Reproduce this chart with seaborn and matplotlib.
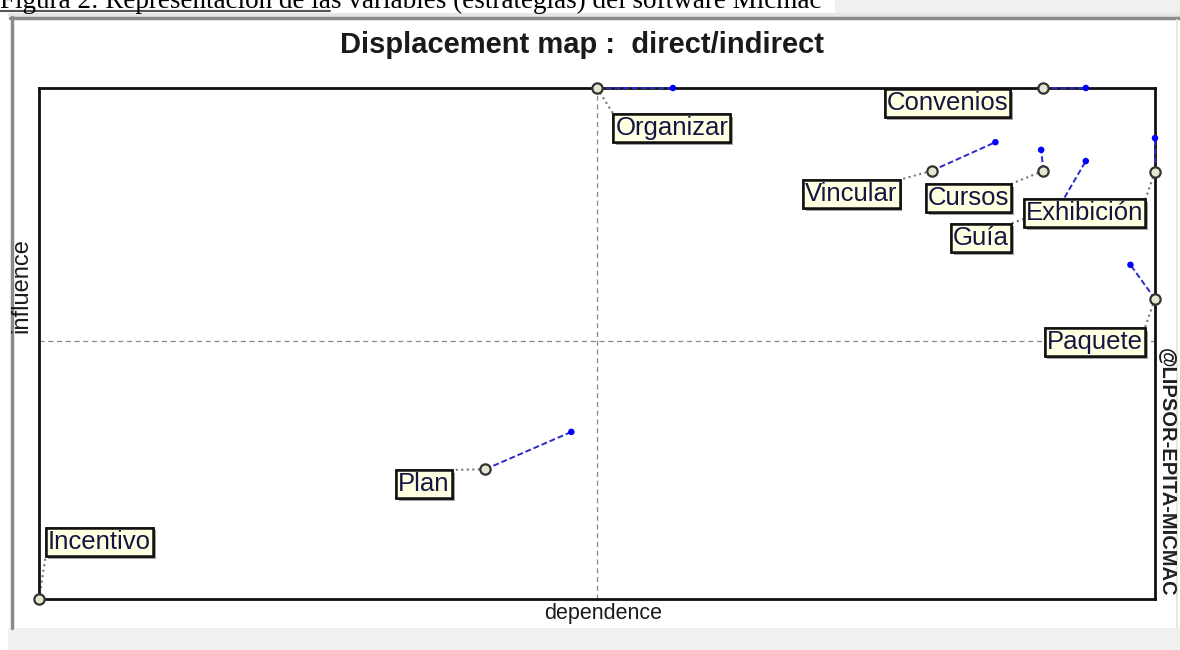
import numpy as np
import pandas as pd
import matplotlib
matplotlib.use('Agg')
import matplotlib.pyplot as plt
import matplotlib.patheffects as pe
from matplotlib.patches import Rectangle
from matplotlib.lines import Line2D
import seaborn as sns


# Variables (strategies) and their positions on the map
variables = ['Organizar', 'Convenios', 'Vincular', 'Cursos', 'Exhibición',
             'Guía', 'Paquete', 'Plan', 'Incentivo']
dep_direct = [0.500, 0.900, 0.800, 0.900, 1.000, 0.915, 1.000, 0.400, 0.000]
inf_direct = [1.000, 1.000, 0.838, 0.838, 0.836, 0.771, 0.587, 0.254, 0.000]
dep_indirect = [0.568, 0.938, 0.857, 0.898, 1.000, 0.938, 0.978, 0.477, 0.000]
inf_indirect = [1.000, 1.000, 0.894, 0.879, 0.902, 0.857, 0.654, 0.327, 0.000]

# where each label box sits (data coords, box centre)
label_x = [0.567, 0.814, 0.728, 0.833, 0.937, 0.844, 0.946, 0.345, 0.054]
label_y = [0.922, 0.971, 0.793, 0.785, 0.755, 0.707, 0.503, 0.225, 0.112]

mean_dep = 0.500
mean_inf = 0.505


def px(x):
    return x / 1180


def py(y):
    return 1 - y / 650


df = pd.DataFrame({'variable': variables,
                   'dep_direct': dep_direct, 'inf_direct': inf_direct,
                   'dep_indirect': dep_indirect, 'inf_indirect': inf_indirect})

# long format for the displacement segments
long_df = pd.concat([
    pd.DataFrame({'variable': variables, 'dependence': dep_direct,
                  'influence': inf_direct, 'kind': 'direct'}),
    pd.DataFrame({'variable': variables, 'dependence': dep_indirect,
                  'influence': inf_indirect, 'kind': 'indirect'}),
])

sns.set_style('white')
plt.rcParams['font.family'] = ['Liberation Sans', 'DejaVu Sans']

fig = plt.figure(figsize=(11.8, 6.5), dpi=100, facecolor='white')

# screenshot window frame
fig.patches.append(Rectangle((px(835), py(14)), px(345), 14 / 650, transform=fig.transFigure,
                             fc='#f0f0f0', ec='none', zorder=0))
fig.patches.append(Rectangle((px(8), 0), px(1172), 22 / 650, transform=fig.transFigure,
                             fc='#f0f0f0', ec='none', zorder=0))
fig.lines.append(Line2D([px(0), px(330)], [py(11), py(11)], transform=fig.transFigure,
                        color='#555555', lw=1.5))
fig.lines.append(Line2D([px(10), px(1180)], [py(15), py(15)], transform=fig.transFigure,
                        color='#e6e6e6', lw=3))
fig.lines.append(Line2D([px(10), px(1180)], [py(18), py(18)], transform=fig.transFigure,
                        color='#8a8a8a', lw=2.5))
fig.lines.append(Line2D([px(11.5), px(11.5)], [py(17), py(628)], transform=fig.transFigure,
                        color='#8a8a8a', lw=2.5))
fig.lines.append(Line2D([px(1177), px(1177)], [py(20), py(628)], transform=fig.transFigure,
                        color='#e6e6e6', lw=1.5))

# figure caption, partly cut by the top edge as in the source document
fig.text(px(0), py(8), 'Figura 2: Representación de las variables (estrategias) del software Micmac',
         family='Liberation Serif', fontsize=19.5, color='black', va='baseline', ha='left')

ax = fig.add_axes([px(39), 51 / 650, 1116 / 1180, 511 / 650])
ax.set_xlim(0, 1)
ax.set_ylim(0, 1)
ax.set_xticks([])
ax.set_yticks([])
for s in ax.spines.values():
    s.set_color('#111111')
    s.set_linewidth(2)
    s.set_visible(True)

# mean lines
ax.axvline(mean_dep, color='#888888', ls=(0, (4, 3)), lw=0.9, zorder=1)
ax.axhline(mean_inf, color='#888888', ls=(0, (4, 3)), lw=0.9, zorder=1)

# displacement segments direct -> indirect
sns.lineplot(data=long_df, x='dependence', y='influence', units='variable',
             estimator=None, sort=False, color='#2a2acc', lw=1.4,
             linestyle=(0, (3, 1.5)), ax=ax, zorder=3, legend=False)
for ln in ax.lines[2:]:
    ln.set_clip_on(False)

# indirect positions
sns.scatterplot(data=df, x='dep_indirect', y='inf_indirect', s=22, color='#0000ff',
                edgecolor='none', zorder=4, ax=ax, clip_on=False)
# direct positions
sns.scatterplot(data=df, x='dep_direct', y='inf_direct', s=55, color='#e6e6cf',
                edgecolor='#333333', linewidth=1.6, zorder=5, ax=ax, clip_on=False)

texts = []
for name, lx, ly in zip(variables, label_x, label_y):
    t = ax.text(lx, ly, name, ha='center', va='center', fontsize=18.5,
                color='#151545', zorder=10,
                bbox=dict(boxstyle='square,pad=0.08', fc='#ffffe1', ec='#111111', lw=1.8))
    t.get_bbox_patch().set_path_effects(
        [pe.withSimplePatchShadow(offset=(2, -2), shadow_rgbFace='#444444', alpha=0.5),
         pe.Normal()])
    texts.append(t)

ax.set_xlabel('')
ax.set_ylabel('')

# connectors: from each point to the nearest spot of its label box
fig.canvas.draw()
inv = ax.transData.inverted()
for i, t in enumerate(texts):
    bb = t.get_bbox_patch().get_window_extent()
    (x0, y0), (x1, y1) = inv.transform([[bb.x0, bb.y0], [bb.x1, bb.y1]])
    cx = min(max(dep_direct[i], x0), x1)
    cy = min(max(inf_direct[i], y0), y1)
    ax.plot([dep_direct[i], cx], [inf_direct[i], cy],
            color='#777777', ls=':', lw=1.5, zorder=2, clip_on=False)

fig.text(px(582), py(45), 'Displacement map :  direct/indirect', ha='center', va='center',
         fontsize=21, weight='bold', color='#1a1a1a')
fig.text(px(603), py(614), 'dependence', ha='center', va='center', fontsize=15.5,
         color='#1a1a1a')
fig.text(px(21), py(286), 'influence', ha='center', va='center', fontsize=17,
         rotation=90, color='#1a1a1a')
fig.text(px(1167), py(472), '@LIPSOR-EPITA-MICMAC', ha='center', va='center', fontsize=14.5,
         weight='bold', rotation=270, color='#202020')

fig.savefig('out.png', dpi=100, facecolor='white')
